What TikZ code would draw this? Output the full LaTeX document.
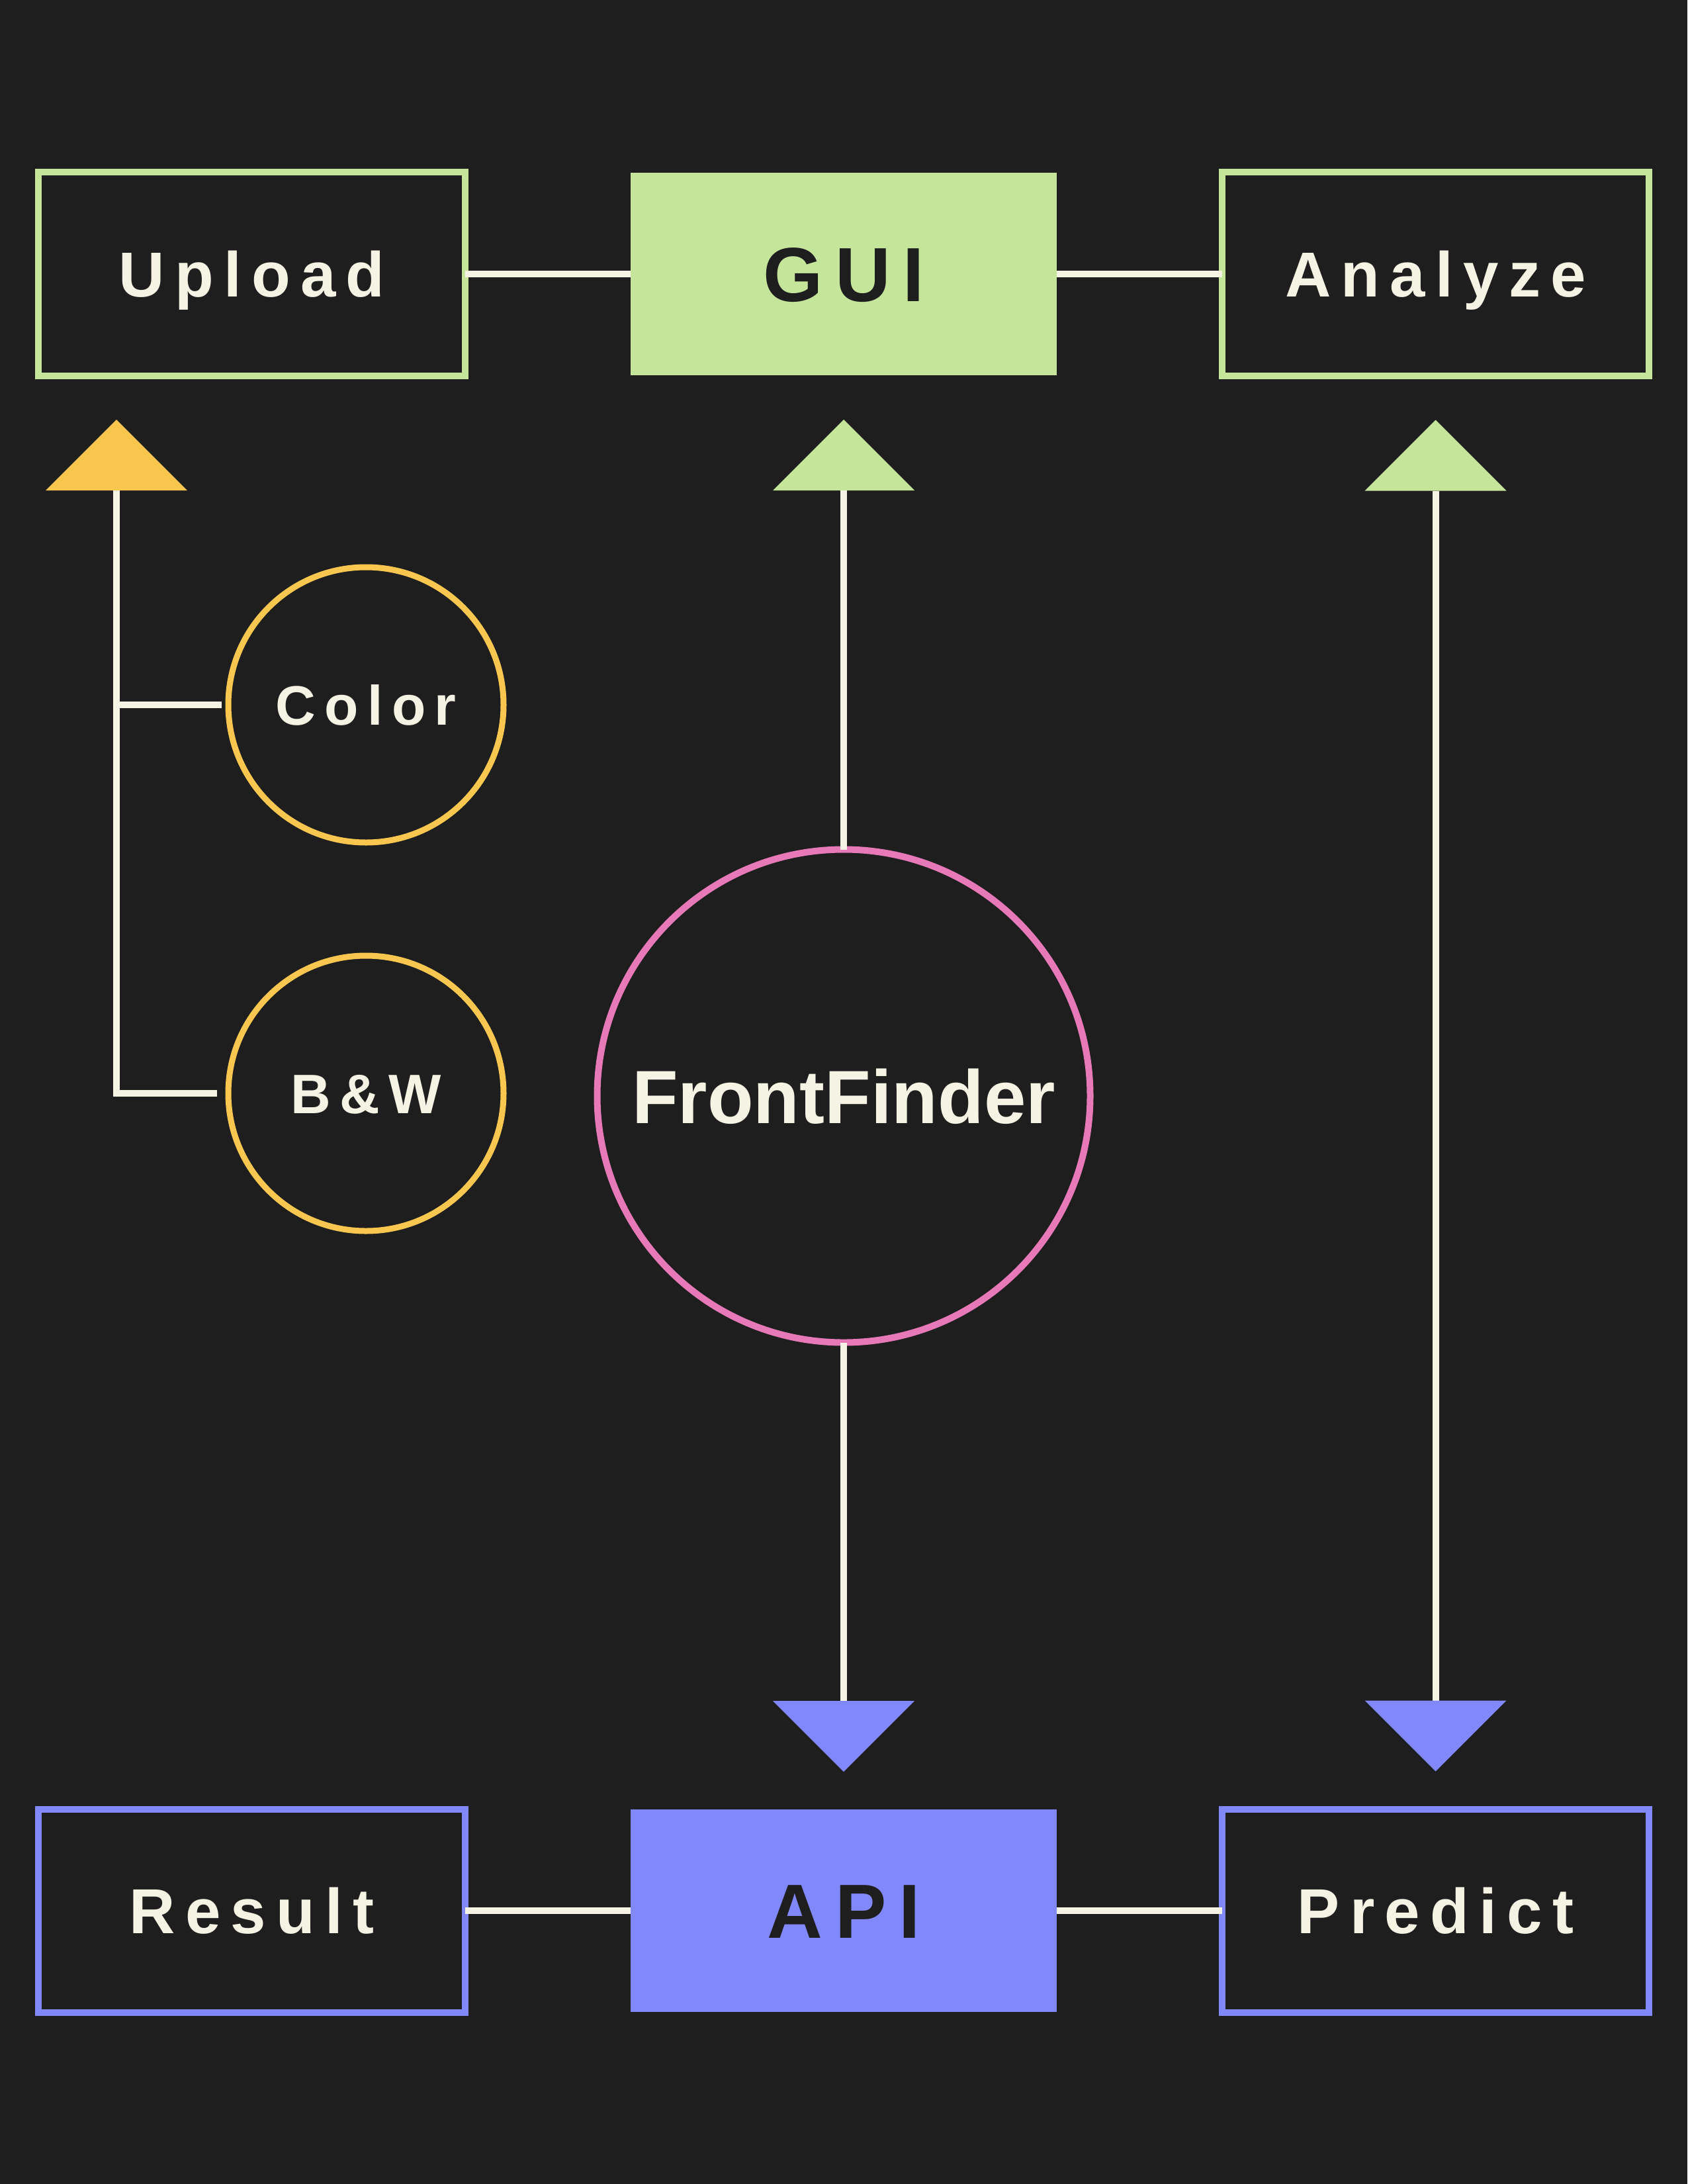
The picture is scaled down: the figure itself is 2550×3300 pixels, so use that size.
\documentclass[tikz,border=0pt]{standalone}
\usepackage{fontspec}
\setmainfont{Liberation Sans}
\newfontfamily\spacedfont[LetterSpace=16]{Liberation Sans}
\usetikzlibrary{positioning,calc,arrows.meta}
\definecolor{bgdark}{HTML}{1E1E1E}
\definecolor{cream}{HTML}{F5F3E3}
\definecolor{guigreen}{HTML}{C5E59B}
\definecolor{apiblue}{HTML}{8088FC}
\definecolor{optyellow}{HTML}{F9C74F}
\definecolor{ffpink}{HTML}{E879B9}
\tikzset{
  wire/.style={draw=cream,line width=10bp},
  ytip/.tip={Triangle[length=107bp,width=214bp,line width=0bp,color=optyellow]},
  gtip/.tip={Triangle[length=107bp,width=214bp,line width=0bp,color=guigreen]},
  btip/.tip={Triangle[length=107bp,width=214bp,line width=0bp,color=apiblue]}
}

\begin{document}
\begin{tikzpicture}[x=1bp,y=-1bp,node distance=250bp,
    box/.style={draw,line width=10bp,fill=bgdark,minimum width=645bp,minimum height=307bp,inner sep=0pt,outer sep=0pt,text=cream,text height=69bp,text depth=0bp,font=\spacedfont\bfseries\fontsize{96bp}{110bp}\selectfont},
    fullbox/.style={minimum width=644bp,minimum height=306bp,inner sep=0pt,outer sep=0pt,text=bgdark,text height=83bp,text depth=0bp,font=\spacedfont\bfseries\fontsize{116bp}{130bp}\selectfont},
    optcircle/.style={circle,draw=optyellow,line width=9bp,fill=bgdark,minimum size=416bp,inner sep=0pt,outer sep=0pt,text=cream,text height=60bp,text depth=0bp,font=\spacedfont\bfseries\fontsize{84bp}{96bp}\selectfont}]
    \fill[bgdark,use as bounding box] (0,0) rectangle (2550,3300);
    \node[fullbox,fill=guigreen] (GUI) at (1275,414) {GUI};
    \node[box,draw=guigreen,left=of GUI] (Upload) {Upload};
    \node[box,draw=guigreen,right=of GUI] (Analyze) {Analyze};
    \node[fullbox,fill=apiblue] (API) at (1275,2887) {API};
    \node[box,draw=apiblue,left=of API] (Result) {Result};
    \node[box,draw=apiblue,right=of API] (Predict) {Predict};
    \node[circle,draw=ffpink,line width=10bp,minimum size=745bp,inner sep=0pt,outer sep=0pt,text=cream,text height=83bp,text depth=0bp,font=\bfseries\fontsize{114bp}{130bp}\selectfont] (FF) at (1275,1656) {FrontFinder};
    \node[optcircle] (Color) at (553,1065) {Color};
    \node[optcircle] (BW) at (553,1652) {B\&W};
    \coordinate (trunk) at (176,634);
    \draw[wire] (Upload) -- (GUI);
    \draw[wire] (GUI) -- (Analyze);
    \draw[wire] (Result) -- (API);
    \draw[wire] (API) -- (Predict);
    \draw[wire,-ytip,shorten <=17bp] (BW.west) -| (trunk);
    \draw[wire,shorten <=10bp] (Color.west) -- (Color.west -| trunk);
    \draw[wire,-gtip,shorten >=67bp] (FF.north) -- (GUI.south);
    \draw[wire,-btip,shorten >=57bp] (FF.south) -- (API.north);
    \draw[wire,gtip-btip,shorten <=67bp,shorten >=57bp] (Analyze.south) -- (Analyze.south |- Predict.north);
\end{tikzpicture}
\end{document}
